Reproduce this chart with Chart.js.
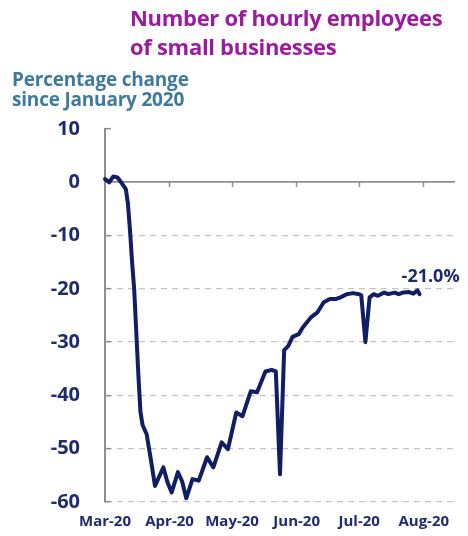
<!DOCTYPE html>
<html>
<head>
<meta charset="utf-8">
<script src="https://cdn.jsdelivr.net/npm/chart.js@4/dist/chart.umd.min.js"></script>
<style>
  html, body { margin: 0; padding: 0; background: #fff; }
  #wrap { position: relative; width: 468px; height: 536px; overflow: hidden; font-family: 'Open Sans', sans-serif; }
  #title { position: absolute; left: 130px; top: 3px; font-size: 22px; font-weight: 700; line-height: 29px; color: #9C1A9E; white-space: nowrap; letter-spacing: -0.3px; }
  #ytitle { position: absolute; left: 12px; top: 69px; font-size: 19px; font-weight: 700; line-height: 20px; color: #3D7B9E; white-space: nowrap; letter-spacing: -0.2px; }
  canvas { position: absolute; left: 0; top: 0; }
</style>
</head>
<body>
<div id="wrap">
  <canvas id="c" width="468" height="536"></canvas>
  <div id="title">Number of hourly employees<br>of small businesses</div>
  <div id="ytitle">Percentage change<br>since January 2020</div>
</div>
<script>
// ---- data ----
const dates = [
  '2020-03-01','2020-03-03','2020-03-05','2020-03-07','2020-03-08','2020-03-11','2020-03-12','2020-03-13',
  '2020-03-14','2020-03-15','2020-03-16','2020-03-17','2020-03-18','2020-03-19','2020-03-21','2020-03-23',
  '2020-03-25','2020-03-29','2020-03-31','2020-04-02','2020-04-05','2020-04-07','2020-04-09','2020-04-12',
  '2020-04-15','2020-04-19','2020-04-22','2020-04-26','2020-04-29','2020-05-03','2020-05-06','2020-05-10',
  '2020-05-13','2020-05-17','2020-05-20','2020-05-22','2020-05-24','2020-05-26','2020-05-28','2020-05-30',
  '2020-06-02','2020-06-04','2020-06-08','2020-06-11','2020-06-14','2020-06-17','2020-06-20','2020-06-22',
  '2020-06-25','2020-06-28','2020-07-01','2020-07-02','2020-07-04','2020-07-06','2020-07-08','2020-07-10',
  '2020-07-13','2020-07-15','2020-07-18','2020-07-20','2020-07-22','2020-07-25','2020-07-27','2020-07-29',
  '2020-07-30'
];
const employeeChange = [
  0.6, 0.0, 1.1, 0.9, 0.4, -1.3, -4, -9,
  -15, -20, -28, -36, -43, -45.5, -47.3, -52,
  -57, -53.5, -56.3, -58.2, -54.4, -56.1, -59.3, -55.7,
  -56, -51.6, -53.5, -48.8, -50.1, -43.2, -43.9, -39.2,
  -39.4, -35.5, -35.2, -35.5, -54.8, -31.5, -30.7, -29,
  -28.5, -27.2, -25.3, -24.4, -22.5, -21.9, -21.9, -21.6,
  -21, -20.8, -21, -21.2, -30, -21.6, -21, -21.3,
  -20.7, -21, -20.7, -21, -20.7, -20.6, -20.9, -20.3,
  -21.0
];
const monthStarts = ['2020-03-01','2020-04-01','2020-05-01','2020-06-01','2020-07-01','2020-08-01'];
const monthLabels = ['Mar-20','Apr-20','May-20','Jun-20','Jul-20','Aug-20'];
const yTicks = [-60, -50, -40, -30, -20, -10, 0, 10];
const yMinorTicks = [-55, -45, -35, -25, -15, -5, 5];
const axisStart = '2020-03-01';
const axisEnd = '2020-08-16';

// ---- helpers ----
const DAY = 86400000;
const dayOf = d => (Date.parse(d) - Date.parse(axisStart)) / DAY;
const points = dates.map((d, i) => ({ x: dayOf(d), y: employeeChange[i] }));
const isMajor = v => yTicks.includes(v);

const navy = '#111E66';
const tickNavy = '#1E2C6E';
const axisGray = '#8E8E8E';

const lastLabel = {
  id: 'lastLabel',
  afterDatasetsDraw(chart) {
    const meta = chart.getDatasetMeta(0);
    const el = meta.data[meta.data.length - 1];
    const v = employeeChange[employeeChange.length - 1];
    const ctx = chart.ctx;
    ctx.save();
    ctx.font = "bold 18px 'Open Sans'";
    ctx.fillStyle = tickNavy;
    ctx.textAlign = 'left';
    ctx.textBaseline = 'alphabetic';
    ctx.fillText(v.toFixed(1) + '%', el.x - 18, el.y - 12);
    ctx.restore();
  }
};

Chart.defaults.font.family = "'Open Sans', sans-serif";

new Chart(document.getElementById('c'), {
  type: 'line',
  data: {
    datasets: [{
      data: points,
      borderColor: navy,
      borderWidth: 4,
      pointRadius: 0,
      tension: 0,
      borderJoinStyle: 'round',
      borderCapStyle: 'round',
      clip: false
    }]
  },
  options: {
    responsive: false,
    animation: false,
    layout: { padding: { left: 0, right: 13, top: 129, bottom: 0 } },
    plugins: { legend: { display: false }, tooltip: { enabled: false }, title: { display: false } },
    scales: {
      x: {
        type: 'linear',
        min: 0,
        max: dayOf(axisEnd),
        afterBuildTicks: s => { s.ticks = monthStarts.map(d => ({ value: dayOf(d) })); },
        afterFit: s => { s.height = 34; s.paddingLeft = 0; s.paddingRight = 0; },
        grid: { display: false, drawTicks: false },
        border: { display: false },
        ticks: {
          autoSkip: false,
          maxRotation: 0,
          padding: 11,
          color: tickNavy,
          font: { size: 15, weight: 'bold' },
          callback: (v, i) => monthLabels[i]
        }
      },
      xZero: {
        type: 'linear',
        axis: 'x',
        position: { y: 0 },
        min: 0,
        max: dayOf(axisEnd),
        afterBuildTicks: s => { s.ticks = monthStarts.slice(1).map(d => ({ value: dayOf(d) })); },
        afterFit: s => { s.paddingLeft = 0; s.paddingRight = 0; },
        grid: { drawOnChartArea: false, drawTicks: true, tickLength: 5, tickColor: axisGray, tickWidth: 1.5 },
        border: { display: false },
        ticks: { display: false }
      },
      y: {
        min: -60,
        max: 10,
        afterBuildTicks: s => {
          s.ticks = yTicks.concat(yMinorTicks).sort((a, b) => a - b).map(v => ({ value: v }));
        },
        afterFit: s => { s.width = 105; s.paddingTop = 0; s.paddingBottom = 0; },
        grid: {
          drawTicks: true,
          tickLength: -6,
          tickColor: axisGray,
          tickWidth: 1.5,
          color: c => {
            const v = c.tick ? c.tick.value : null;
            if (v === 10 || !isMajor(v)) return 'rgba(0,0,0,0)';
            return v === 0 ? axisGray : '#C4C4C4';
          },
          lineWidth: c => (c.tick && c.tick.value === 0) ? 1.8 : 1.3
        },
        border: {
          display: true,
          color: axisGray,
          width: 2,
          dash: c => (c.type === 'tick' && c.tick && c.tick.value !== 0) ? [6, 5] : []
        },
        ticks: {
          padding: 31,
          color: tickNavy,
          font: { size: 20, weight: 'bold' },
          callback: v => isMajor(v) ? String(v) : ''
        }
      }
    }
  },
  plugins: [lastLabel]
});
</script>
</body>
</html>
